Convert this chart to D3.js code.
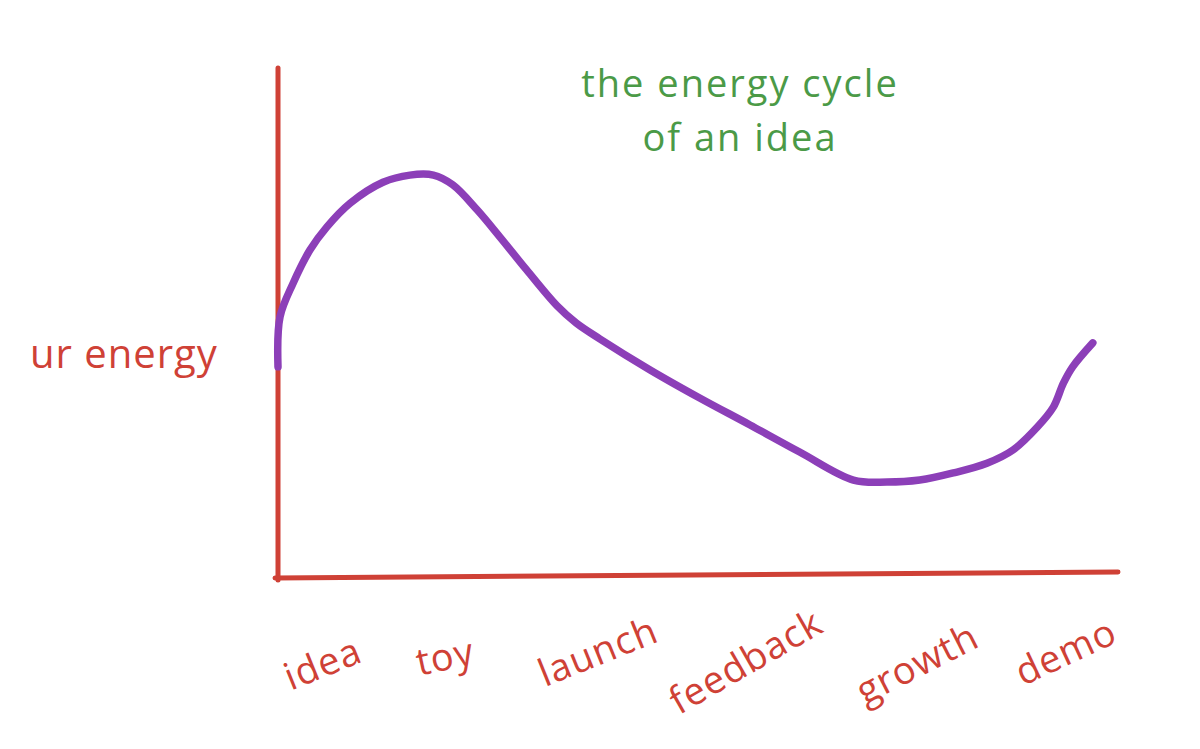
<!DOCTYPE html>
<html>
<head>
<meta charset="utf-8">
<script src="https://cdn.jsdelivr.net/npm/d3@7"></script>
<style>
  body { margin: 0; background: #fff; }
  svg { display: block; }
  text { font-family: "Open Sans", "Noto Sans", sans-serif; }
</style>
</head>
<body>
<svg id="chart" width="1200" height="749"></svg>
<script>
// stages along the bottom
var stages = ['idea', 'toy', 'launch', 'feedback', 'growth', 'demo'];
// progress through the idea (0-100) and energy level (0-100)
var progress = [0, 0.24, 1.8, 3.8, 5.8, 8.6, 12.5, 15.7, 18.5, 20.8, 23.7, 26.4, 29.6, 33.2, 35.5, 38.3, 44.3,
                50.2, 56.2, 62.1, 68.5, 72.5, 76.4, 80.4, 84.4, 87.5, 90.4, 92.3, 93.5, 94.6, 97.0];
var energy = [41.4, 51.2, 57.8, 64.3, 68.8, 73.5, 77.6, 79.0, 79.0, 77.1, 72.2, 66.9, 60.4, 53.4, 50.0, 46.9, 40.8,
              35.3, 30.0, 24.7, 19.2, 18.8, 19.2, 20.6, 22.5, 25.1, 29.6, 33.5, 38.2, 41.4, 46.1];
var titleLines = ['the energy cycle', 'of an idea'];
var yLabel = 'ur energy';

var red = '#cf4136', purple = '#8c3fb8', green = '#4b9a47';
var svg = d3.select('#chart');

var x = d3.scaleLinear().domain([0, 100]).range([278, 1118]);
var y = d3.scaleLinear().domain([0, 100]).range([578, 68]);

// axes - hand drawn, x axis tilts up slightly to the right
svg.append('line')
    .attr('x1', x(0)).attr('y1', y(100))
    .attr('x2', x(0)).attr('y2', y(0) + 2)
    .attr('stroke', red).attr('stroke-width', 5).attr('stroke-linecap', 'round');
svg.append('line')
    .attr('x1', x(0) - 3).attr('y1', y(0))
    .attr('x2', x(100)).attr('y2', y(0) - 6)
    .attr('stroke', red).attr('stroke-width', 5).attr('stroke-linecap', 'round');

// the energy curve
var pts = progress.map(function (p, i) { return [p, energy[i]]; });
var line = d3.line()
    .x(function (d) { return x(d[0]); })
    .y(function (d) { return y(d[1]); })
    .curve(d3.curveCatmullRom.alpha(0.5));
svg.append('path')
    .datum(pts)
    .attr('d', line)
    .attr('fill', 'none')
    .attr('stroke', purple)
    .attr('stroke-width', 7.5)
    .attr('stroke-linecap', 'round')
    .attr('stroke-linejoin', 'round');

// title
svg.selectAll('text.title')
    .data(titleLines)
    .enter().append('text')
    .attr('class', 'title')
    .attr('x', 740)
    .attr('y', function (d, i) { return 97 + i * 54; })
    .attr('text-anchor', 'middle')
    .attr('fill', green)
    .attr('font-size', 38)
    .attr('letter-spacing', 2)
    .text(function (d) { return d; });

// y label
svg.append('text')
    .attr('x', 30).attr('y', 368)
    .attr('fill', red)
    .attr('font-size', 40)
    .attr('letter-spacing', 1)
    .text(yLabel);

// stage labels, written at a slant
var sx = d3.scalePoint().domain(stages).range([322, 1065]);
var nudge = [0, -26, -22, -23, 0, 0];
var tilt = [-22, -12, -22, -30, -27, -25];
var tiltY = [662, 655, 650, 660, 662, 650];
svg.selectAll('text.stage')
    .data(stages)
    .enter().append('text')
    .attr('class', 'stage')
    .attr('text-anchor', 'middle')
    .attr('dominant-baseline', 'central')
    .attr('transform', function (d, i) {
        return 'translate(' + (sx(d) + nudge[i]) + ',' + tiltY[i] + ') rotate(' + tilt[i] + ')';
    })
    .attr('fill', red)
    .attr('font-size', 38)
    .attr('letter-spacing', 1)
    .text(function (d) { return d; });
</script>
</body>
</html>
